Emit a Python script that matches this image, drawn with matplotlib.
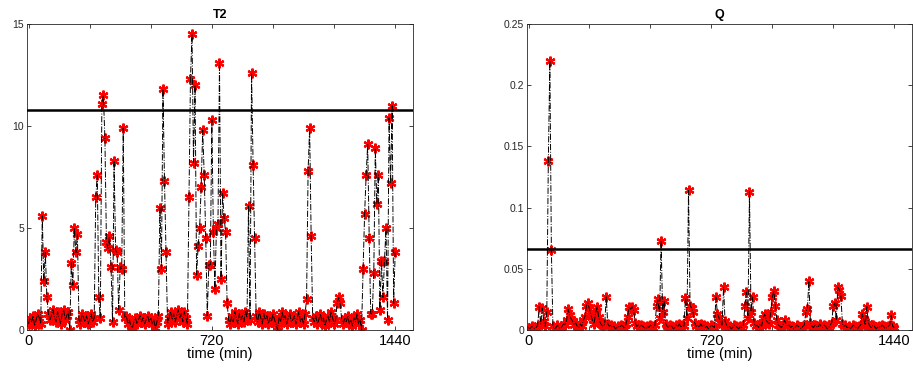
import numpy as np
import matplotlib
matplotlib.use("Agg")
import matplotlib.pyplot as plt

plt.rcParams['font.family'] = ['Liberation Sans', 'DejaVu Sans']

step_min = 6
t2_values = [
    0.3, 0.6, 0.4, 0.7, 0.2, 0.5, 0.8, 0.6, 0.3, 5.6,
    2.4, 3.8, 1.6, 0.8, 0.5, 0.7, 1.0, 0.6, 0.4, 0.9,
    0.6, 0.3, 0.8, 1.0, 0.5, 0.7, 0.9, 0.0, 3.3, 2.2,
    5.0, 3.8, 4.7, 0.5, 0.3, 0.8, 0.6, 0.4, 0.7, 0.3,
    0.5, 0.8, 0.4, 0.6, 6.5, 7.6, 1.6, 0.6, 11.1, 11.5,
    9.4, 4.3, 4.0, 4.6, 3.1, 0.4, 8.3, 3.9, 3.8, 1.0,
    3.1, 3.0, 9.9, 0.6, 0.7, 0.3, 0.5, 0.2, 0.1, 0.4,
    0.6, 0.3, 0.5, 0.7, 0.4, 0.6, 0.3, 0.5, 0.7, 0.4,
    0.6, 0.3, 0.5, 0.1, 0.4, 0.7, 6.0, 3.0, 11.8, 7.3,
    3.8, 0.3, 0.6, 0.9, 0.5, 0.8, 0.4, 0.7, 1.0, 0.6,
    0.8, 0.4, 0.9, 0.6, 0.3, 6.5, 12.3, 14.5, 8.2, 12.0,
    2.7, 4.1, 5.0, 7.0, 9.8, 7.6, 4.5, 0.7, 3.2, 3.2,
    10.3, 4.8, 2.0, 5.0, 5.2, 13.1, 2.5, 6.7, 5.5, 4.8,
    1.3, 0.5, 0.3, 0.7, 0.4, 0.9, 0.6, 0.3, 0.8, 0.5,
    0.7, 0.4, 0.9, 0.6, 6.1, 0.5, 12.6, 8.1, 4.5, 0.7,
    0.4, 0.9, 0.6, 0.3, 0.8, 0.5, 0.7, 0.3, 0.6, 0.4,
    0.8, 0.5, 0.3, 0.0, 0.6, 0.4, 0.9, 0.5, 0.7, 0.3,
    0.6, 0.8, 0.4, 0.5, 0.7, 0.3, 0.6, 0.9, 0.4, 0.6,
    0.3, 0.8, 1.5, 7.8, 9.9, 4.6, 0.6, 0.4, 0.7, 0.3,
    0.5, 0.8, 0.4, 0.6, 0.2, 0.5, 0.7, 0.4, 0.9, 0.6,
    0.3, 0.5, 1.3, 1.6, 1.3, 0.5, 0.3, 0.6, 0.4, 0.7,
    0.3, 0.5, 0.2, 0.6, 0.4, 0.8, 0.3, 0.5, 0.0, 3.0,
    5.7, 7.6, 9.1, 4.5, 0.8, 0.8, 2.8, 8.9, 6.2, 7.6,
    1.0, 3.4, 1.6, 3.4, 5.0, 0.5, 10.4, 7.2, 11.0, 1.3,
    3.8,
]
q_values = [
    0.002, 0.001, 0.003, 0.002, 0.001, 0.002, 0.004, 0.019, 0.005, 0.018,
    0.007, 0.003, 0.015, 0.138, 0.220, 0.065, 0.003, 0.001, 0.002, 0.004,
    0.002, 0.001, 0.003, 0.005, 0.004, 0.008, 0.017, 0.012, 0.009, 0.007,
    0.004, 0.006, 0.003, 0.002, 0.005, 0.003, 0.008, 0.011, 0.020, 0.022,
    0.017, 0.012, 0.008, 0.005, 0.014, 0.019, 0.011, 0.006, 0.004, 0.003,
    0.005, 0.027, 0.005, 0.003, 0.004, 0.002, 0.003, 0.001, 0.002, 0.003,
    0.002, 0.004, 0.003, 0.001, 0.005, 0.011, 0.019, 0.017, 0.019, 0.016,
    0.006, 0.003, 0.004, 0.002, 0.004, 0.003, 0.002, 0.001, 0.003, 0.002,
    0.004, 0.003, 0.002, 0.004, 0.020, 0.025, 0.010, 0.073, 0.015, 0.024,
    0.005, 0.003, 0.002, 0.004, 0.003, 0.001, 0.002, 0.004, 0.003, 0.005,
    0.002, 0.004, 0.003, 0.026, 0.010, 0.114, 0.020, 0.018, 0.015, 0.006,
    0.003, 0.004, 0.002, 0.005, 0.003, 0.004, 0.002, 0.003, 0.001, 0.002,
    0.004, 0.003, 0.002, 0.027, 0.013, 0.010, 0.006, 0.004, 0.035, 0.007,
    0.004, 0.002, 0.003, 0.001, 0.002, 0.004, 0.003, 0.002, 0.001, 0.003,
    0.002, 0.004, 0.020, 0.031, 0.010, 0.113, 0.015, 0.027, 0.006, 0.003,
    0.004, 0.002, 0.005, 0.003, 0.010, 0.013, 0.008, 0.006, 0.005, 0.015,
    0.027, 0.032, 0.020, 0.008, 0.004, 0.003, 0.002, 0.004, 0.008, 0.005,
    0.003, 0.004, 0.002, 0.003, 0.001, 0.002, 0.004, 0.003, 0.002, 0.001,
    0.003, 0.004, 0.015, 0.017, 0.040, 0.006, 0.003, 0.002, 0.004, 0.003,
    0.002, 0.005, 0.003, 0.002, 0.004, 0.003, 0.001, 0.002, 0.004, 0.006,
    0.020, 0.022, 0.008, 0.035, 0.033, 0.028, 0.005, 0.003, 0.004, 0.002,
    0.003, 0.001, 0.002, 0.004, 0.003, 0.002, 0.001, 0.003, 0.004, 0.013,
    0.009, 0.004, 0.019, 0.006, 0.003, 0.002, 0.004, 0.003, 0.001, 0.002,
    0.003, 0.002, 0.004, 0.003, 0.001, 0.002, 0.003, 0.004, 0.012, 0.003,
    0.002,
]
t2_limit = 10.8
q_limit = 0.066
titles = ["T2", "Q"]
x_ticks = [0, 240, 480, 720, 960, 1200, 1440]
x_ticklabels = ["0", "", "", "720", "", "", "1440"]
t2_yticks = [0, 5, 10, 15]
q_yticks = [0, 0.05, 0.1, 0.15, 0.2, 0.25]
q_yticklabels = ["0", "0.05", "0.1", "0.15", "0.2", "0.25"]

time = np.arange(len(t2_values)) * step_min

fig = plt.figure(figsize=(9.13, 3.72), dpi=100)
ax1 = fig.add_axes([27/913, 42/372, 386/913, 306/372])
ax2 = fig.add_axes([527/913, 42/372, 385/913, 306/372])

gray = (0.15, 0.15, 0.15)
for ax, vals, lim, title, yt in [(ax1, t2_values, t2_limit, titles[0], t2_yticks),
                                 (ax2, q_values, q_limit, titles[1], q_yticks)]:
    ax.plot(time, vals, linestyle='none', marker=(6, 2, 0), color='red',
            markersize=7, markeredgewidth=1.6, zorder=2)
    ax.plot(time, vals, linestyle='-.', color='black', linewidth=0.7, zorder=3)
    ax.axhline(lim, color='black', linewidth=1.8, zorder=4)
    ax.set_xlim(-6, 1510)
    ax.set_ylim(yt[0], yt[-1])
    ax.set_xticks(x_ticks)
    ax.set_xticklabels(x_ticklabels, fontsize=10.5, color='black')
    ax.set_yticks(yt)
    ax.tick_params(axis='y', labelsize=7.5, labelcolor=gray, pad=2)
    ax.tick_params(axis='x', pad=3)
    ax.tick_params(direction='in', top=True, right=True, length=3, width=0.6,
                   color=gray)
    for s in ax.spines.values():
        s.set_linewidth(0.6)
        s.set_color(gray)
    ax.set_title(title, fontsize=9, fontweight='bold', pad=4)
    ax.set_xlabel("time (min)", fontsize=10.5, labelpad=-1)

ax2.set_yticklabels(q_yticklabels)

fig.savefig("out.png", dpi=100)
